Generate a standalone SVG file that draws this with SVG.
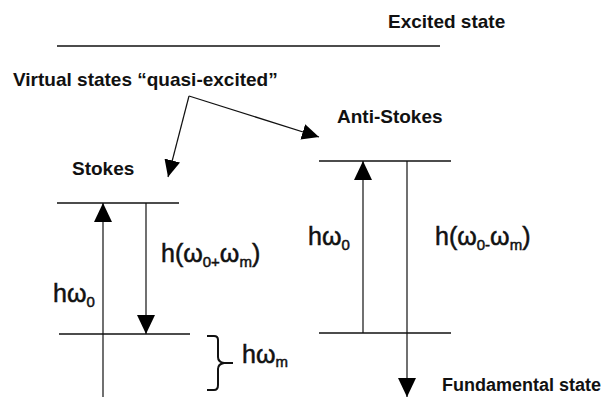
<svg xmlns="http://www.w3.org/2000/svg" width="610" height="397" viewBox="0 0 610 397">
<style>
.lvl{stroke:#111;stroke-width:1.3;fill:none}
.ln{stroke:#111;stroke-width:1.2;fill:none}
.br{stroke:#111;stroke-width:2;fill:none}
.t{font-family:"Liberation Sans",Arial,sans-serif;font-weight:bold;font-size:19px;fill:#111}
.m{font-family:"Liberation Sans",Arial,sans-serif;font-size:25px;fill:#111;stroke:#111;stroke-width:0.5}
.s{font-size:15px}
</style>
<defs>
<marker id="ah" markerUnits="userSpaceOnUse" markerWidth="20" markerHeight="18" viewBox="0 0 20 18" refX="19" refY="9" orient="auto">
<path d="M0,0 L19,9 L0,18 z" fill="#000"/>
</marker>
<marker id="ahs" markerUnits="userSpaceOnUse" markerWidth="18" markerHeight="16" viewBox="0 0 18 16" refX="17" refY="8" orient="auto">
<path d="M0,0 L17,8 L0,16 z" fill="#000"/>
</marker>
</defs>
<rect width="610" height="397" fill="#fff"/>
<g id="excited">
<line class="lvl" x1="57" y1="46" x2="440" y2="46"/>
<text class="t" x="388" y="28">Excited state</text>
</g>
<g id="virtual">
<text class="t" x="13" y="86">Virtual states “quasi-excited”</text>
</g>
<g id="stokes">
<text class="t" x="72" y="175">Stokes</text>
<line class="lvl" x1="57" y1="203" x2="179" y2="203"/>
<line class="lvl" x1="59" y1="334" x2="190" y2="334"/>
<text class="m" x="161" y="262">h(ω<tspan class="s" dy="5">0+</tspan><tspan dy="-5">ω</tspan><tspan class="s" dy="5">m</tspan><tspan dy="-5">)</tspan></text>
<text class="m" x="53" y="302">hω<tspan class="s" dy="5">0</tspan></text>
</g>
<g id="brace">
<path class="br" d="M207,336 H214 Q218,336 218,340 V357 Q218,362 224,363 H233 M224,363 Q218,364 218,369 V385 Q218,390 214,390 H207"/>
<text class="m" x="242" y="363">hω<tspan class="s" dy="4">m</tspan></text>
</g>
<g id="antistokes">
<text class="t" x="337" y="123">Anti-Stokes</text>
<line class="lvl" x1="319" y1="161" x2="451" y2="161"/>
<line class="lvl" x1="319" y1="333" x2="451" y2="333"/>
<text class="m" x="308" y="245">hω<tspan class="s" dy="5">0</tspan></text>
<text class="m" x="435" y="245">h(ω<tspan class="s" dy="5">0-</tspan><tspan dy="-5">ω</tspan><tspan class="s" dy="5">m</tspan><tspan dy="-5">)</tspan></text>
</g>
<g id="fundamental">
<text class="t" x="442" y="391" style="font-size:18px">Fundamental state</text>
</g>
<g id="connectors">
<path class="ln" d="M189,96 L168,177" marker-end="url(#ahs)"/>
<path class="ln" d="M189,96 L319,137" marker-end="url(#ahs)"/>
<line class="ln" x1="103" y1="397" x2="103" y2="203" marker-end="url(#ah)"/>
<line class="ln" x1="146" y1="203" x2="146" y2="334" marker-end="url(#ah)"/>
<line class="ln" x1="363" y1="333" x2="363" y2="161" marker-end="url(#ah)"/>
<line class="ln" x1="407" y1="161" x2="407" y2="397" marker-end="url(#ah)"/>
</g>
</svg>
